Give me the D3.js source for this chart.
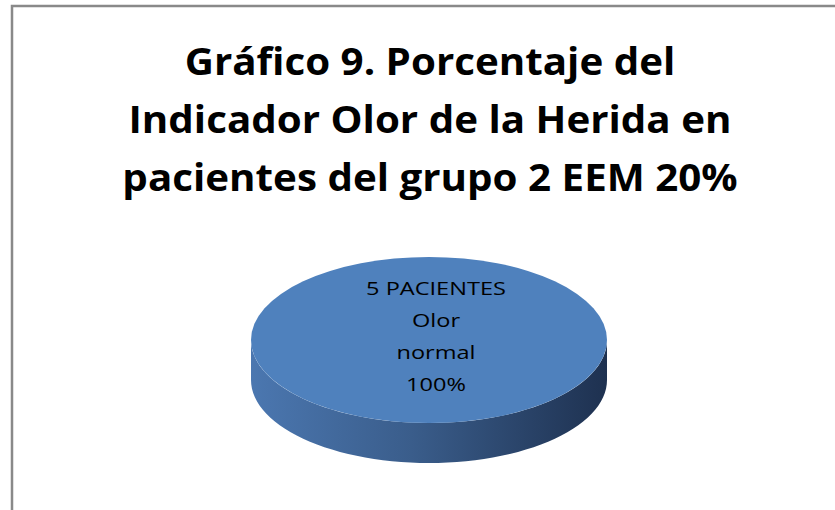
<!DOCTYPE html>
<html>
<head>
<meta charset="utf-8">
<script src="https://cdn.jsdelivr.net/npm/d3@7"></script>
<style>
  body { margin: 0; background: #fff; }
</style>
</head>
<body>
<div id="chart"></div>
<script>
// datos del grafico
const categories = ["Olor normal"];
const patients = [5];
const percents = ["100%"];
const titleLines = [
    "Gráfico 9. Porcentaje del",
    "Indicador Olor de la Herida en",
    "pacientes del grupo 2 EEM 20%"
];

const width = 835;
const height = 510;

// geometria del pastel 3D
const cx = 429, cy = 340;
const rx = 178, ry = 83;
const depth = 40;

var svg = d3.select("#chart").append("svg")
    .attr("width", width).attr("height", height);

// marco
svg.append("rect")
    .attr("x", 12).attr("y", 6)
    .attr("width", 840).attr("height", 520)
    .attr("fill", "none")
    .attr("stroke", "#898989")
    .attr("stroke-width", 2.5);

// titulo (texto algo ensanchado como en el original)
svg.append("g")
    .attr("transform", "translate(430,0) scale(1.09,1)")
    .selectAll("text")
    .data(titleLines)
    .enter().append("text")
    .attr("x", 0)
    .attr("y", (d, i) => 75 + i * 58)
    .attr("text-anchor", "middle")
    .attr("font-family", "'Open Sans', sans-serif")
    .attr("font-weight", "bold")
    .attr("font-size", 37)
    .text(d => d);

var defs = svg.append("defs");
var grad = defs.append("linearGradient")
    .attr("id", "side_grad")
    .attr("x1", "0%").attr("x2", "100%")
    .attr("y1", "0%").attr("y2", "0%");
grad.append("stop").attr("offset", "0%").attr("stop-color", "#4b77b0");
grad.append("stop").attr("offset", "45%").attr("stop-color", "#3a5d8b");
grad.append("stop").attr("offset", "100%").attr("stop-color", "#1e3150");

var pie = d3.pie().sort(null)(patients);

var g_pie = svg.append("g").attr("transform", "translate(" + cx + "," + cy + ")");

// lado visible (mitad frontal)
function sidePath(d) {
    let a0 = Math.max(d.startAngle, Math.PI / 2);
    let a1 = Math.min(d.endAngle, 3 * Math.PI / 2);
    if (a1 <= a0) return null;
    let pts = d3.range(0, 61).map(k => a0 + (a1 - a0) * k / 60);
    let top = pts.map(a => [rx * Math.sin(a), -ry * Math.cos(a)]);
    let bottom = pts.slice().reverse().map(a => [rx * Math.sin(a), -ry * Math.cos(a) + depth]);
    return d3.line()(top.concat(bottom)) + "Z";
}

g_pie.selectAll(".side")
    .data(pie)
    .enter().append("path")
    .attr("class", "side")
    .attr("d", sidePath)
    .attr("fill", "url(#side_grad)");

var arc = d3.arc().innerRadius(0).outerRadius(rx);

g_pie.selectAll(".top")
    .data(pie)
    .enter().append("path")
    .attr("class", "top")
    .attr("d", arc)
    .attr("transform", "scale(1," + (ry / rx) + ")")
    .attr("fill", "#4f81bd");

// etiqueta
var labels = pie.map((d, i) => [patients[i] + " PACIENTES"]
    .concat(categories[i].split(" "))
    .concat([percents[i]]));

var g_lab = g_pie.append("g")
    .attr("transform", "translate(7,0) scale(1.24,1)");
labels.forEach(lines => {
    g_lab.selectAll(null)
        .data(lines)
        .enter().append("text")
        .attr("x", 0)
        .attr("y", (d, i) => -45 + i * 32)
        .attr("text-anchor", "middle")
        .attr("font-family", "'Open Sans', sans-serif")
        .attr("font-size", 19)
        .attr("fill", "#000")
        .text(d => d);
});
</script>
</body>
</html>
